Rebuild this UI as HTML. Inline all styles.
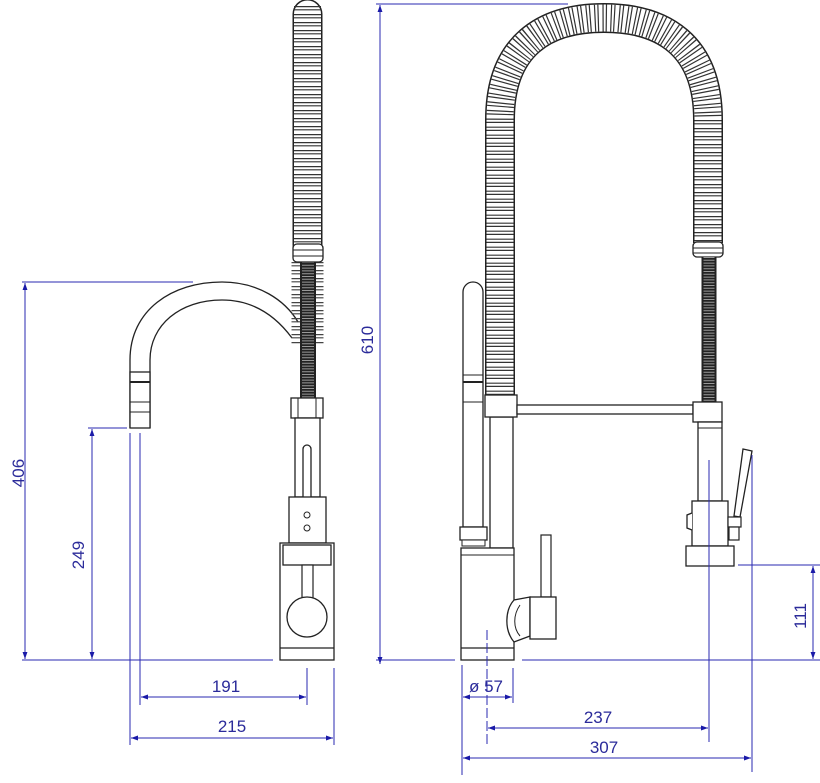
<!DOCTYPE html>
<html><head><meta charset="utf-8"><style>
html,body{margin:0;padding:0;background:#fff;}
svg{display:block}
text{font-family:"Liberation Sans",sans-serif;fill:#2b2b9a;font-size:17px}
</style></head><body>
<svg width="820" height="783" viewBox="0 0 820 783" xmlns="http://www.w3.org/2000/svg">
<defs>
<marker id="a" viewBox="0 0 10 10" refX="10" refY="5" markerWidth="9" markerHeight="7" orient="auto-start-reverse" markerUnits="userSpaceOnUse"><path d="M0,1.5 L10,5 L0,8.5 z" fill="#1a1aa8"/></marker>
</defs>
<g fill="none" stroke-linecap="butt">
<!-- ===== LEFT VIEW ===== -->
<path d="M130,428 L130,360 C130,310 172,282 222,282 C258,282 285,300 298,322" stroke="#222" stroke-width="1.3"/>
<path d="M150,428 L150,360 C150,325 180,300 222,300 C252,300 275,315 292,338" stroke="#222" stroke-width="1.3"/>
<rect x="130" y="372" width="20" height="56" fill="#fff" stroke="#222" stroke-width="1.3"/>
<line x1="130" y1="382" x2="150" y2="382" stroke="#222" stroke-width="2"/>
<line x1="130" y1="402" x2="150" y2="402" stroke="#222" stroke-width="1"/>
<line x1="130" y1="412" x2="150" y2="412" stroke="#222" stroke-width="1"/>
<!-- left spring -->
<path d="M307.5,14 L307.5,245" stroke="#222" stroke-width="30" stroke-linecap="round"/>
<path d="M307.5,14 L307.5,245" stroke="#fff" stroke-width="27" stroke-linecap="round"/>
<path d="M307.5,6 L307.5,245" stroke="#333" stroke-width="27" stroke-dasharray="1.2 2 1.2 3.6"/>
<path d="M307.5,262 L307.5,345" stroke="#444" stroke-width="32" stroke-dasharray="1.2 2 1.2 3.6"/>
<path d="M308,262 L308,398" stroke="#222" stroke-width="16"/>
<path d="M308,262 L308,398" stroke="#999" stroke-width="12" stroke-dasharray="1 1.8"/>
<rect x="293" y="244" width="30" height="18" rx="4" fill="#fff" stroke="#222" stroke-width="1.3"/>
<line x1="293" y1="250" x2="323" y2="250" stroke="#222"/><line x1="293" y1="256" x2="323" y2="256" stroke="#222"/>
<rect x="291" y="398" width="32" height="20" fill="#fff" stroke="#222" stroke-width="1.3"/>
<line x1="298" y1="398" x2="298" y2="418" stroke="#222"/><line x1="316" y1="398" x2="316" y2="418" stroke="#222"/>
<rect x="295" y="418" width="25" height="79" fill="#fff" stroke="#222" stroke-width="1.3"/>
<rect x="303" y="445" width="8" height="65" rx="4" fill="#fff" stroke="#222" stroke-width="1.3"/>
<rect x="289" y="497" width="37" height="46" fill="#fff" stroke="#222" stroke-width="1.3"/>
<circle cx="307" cy="515" r="3" stroke="#222"/><circle cx="307" cy="528" r="3" stroke="#222"/>
<rect x="280" y="543" width="54" height="117" fill="#fff" stroke="#222" stroke-width="1.3"/>
<rect x="283" y="545" width="48" height="20" fill="#fff" stroke="#222" stroke-width="1.3"/>
<rect x="302" y="565" width="11" height="35" fill="#fff" stroke="#222" stroke-width="1.2"/>
<circle cx="307" cy="617" r="20" fill="#fff" stroke="#222" stroke-width="1.3"/>
<line x1="280" y1="648" x2="334" y2="648" stroke="#222" stroke-width="1.3"/>

<!-- ===== RIGHT VIEW ===== -->
<path d="M500,395 L500,120 C500,45 545,18 604,18 C663,18 708,45 708,120 L708,243" stroke="#222" stroke-width="30"/>
<path d="M500,395 L500,120 C500,45 545,18 604,18 C663,18 708,45 708,120 L708,243" stroke="#fff" stroke-width="27"/>
<path d="M500,395 L500,120 C500,45 545,18 604,18 C663,18 708,45 708,120 L708,243" stroke="#333" stroke-width="27" stroke-dasharray="1.2 2 1.2 3.6"/>
<rect x="693" y="242" width="30" height="15" rx="4" fill="#fff" stroke="#222" stroke-width="1.3"/>
<line x1="693" y1="248" x2="723" y2="248" stroke="#222"/><line x1="693" y1="253" x2="723" y2="253" stroke="#222"/>
<path d="M709,257 L709,402" stroke="#222" stroke-width="15"/>
<path d="M709,257 L709,402" stroke="#999" stroke-width="11" stroke-dasharray="1 1.8"/>
<path d="M463,527 L463,292 A10,10 0 0 1 483,292 L483,527 Z" fill="#fff" stroke="#222" stroke-width="1.3"/>
<line x1="463" y1="375" x2="483" y2="375" stroke="#222"/>
<line x1="463" y1="382" x2="483" y2="382" stroke="#222" stroke-width="2"/>
<line x1="463" y1="402" x2="483" y2="402" stroke="#222"/>
<rect x="460" y="527" width="27" height="13" fill="#fff" stroke="#222" stroke-width="1.3"/>
<rect x="462" y="540" width="23" height="6" fill="#fff" stroke="#222" stroke-width="1"/>
<rect x="490" y="417" width="23" height="131" fill="#fff" stroke="#222" stroke-width="1.3"/>
<rect x="485" y="395" width="32" height="22" fill="#fff" stroke="#222" stroke-width="1.3"/>
<rect x="517" y="405" width="176" height="9" fill="#fff" stroke="#222" stroke-width="1.3"/>
<rect x="693" y="402" width="29" height="20" fill="#fff" stroke="#222" stroke-width="1.3"/>
<rect x="698" y="422" width="24" height="79" fill="#fff" stroke="#222" stroke-width="1.3"/>
<line x1="698" y1="428" x2="722" y2="428" stroke="#222"/>
<rect x="692" y="501" width="36" height="45" fill="#fff" stroke="#222" stroke-width="1.3"/>
<rect x="686" y="546" width="48" height="20" fill="#fff" stroke="#222" stroke-width="1.3"/>
<path d="M692,513 L687,515 L687,528 L692,530" fill="#fff" stroke="#222" stroke-width="1.3"/>
<path d="M743,449 L752,451 L740,517 L734,516 Z" fill="#fff" stroke="#222" stroke-width="1.3"/>
<rect x="728" y="517" width="13" height="10" fill="#fff" stroke="#222" stroke-width="1.2"/>
<rect x="729" y="527" width="10" height="13" fill="#fff" stroke="#222" stroke-width="1.2"/>
<rect x="461" y="548" width="53" height="112" fill="#fff" stroke="#222" stroke-width="1.3"/>
<line x1="461" y1="555" x2="514" y2="555" stroke="#222"/>
<line x1="461" y1="648" x2="514" y2="648" stroke="#222" stroke-width="1.3"/>
<path d="M514,600 C505,610 504,630 514,642 L530,636 L530,597 Z" fill="#fff" stroke="#222" stroke-width="1.3"/>
<path d="M520,605 C513,615 513,628 520,636" stroke="#222"/>
<rect x="541" y="535" width="10" height="62" fill="#fff" stroke="#222" stroke-width="1.2"/>
<rect x="530" y="597" width="26" height="42" fill="#fff" stroke="#222" stroke-width="1.3"/>
</g>

<g stroke="#2a2ab0" stroke-width="1" fill="none">
<line x1="22" y1="282" x2="193" y2="282"/>
<line x1="22" y1="660" x2="273" y2="660"/>
<line x1="25" y1="283" x2="25" y2="659" marker-start="url(#a)" marker-end="url(#a)"/>
<line x1="88" y1="428" x2="127" y2="428"/>
<line x1="92" y1="429" x2="92" y2="659" marker-start="url(#a)" marker-end="url(#a)"/>
<line x1="130" y1="433" x2="130" y2="745"/>
<line x1="140" y1="433" x2="140" y2="705"/>
<line x1="307" y1="668" x2="307" y2="705"/>
<line x1="334" y1="668" x2="334" y2="745"/>
<line x1="141" y1="697" x2="306" y2="697" marker-start="url(#a)" marker-end="url(#a)"/>
<line x1="131" y1="738" x2="333" y2="738" marker-start="url(#a)" marker-end="url(#a)"/>
<line x1="376" y1="4" x2="568" y2="4"/>
<line x1="380" y1="5" x2="380" y2="664" marker-start="url(#a)" marker-end="url(#a)"/>
<line x1="376" y1="660" x2="455" y2="660"/>
<line x1="522" y1="660" x2="820" y2="660"/>
<line x1="738" y1="565" x2="820" y2="565"/>
<line x1="813" y1="566" x2="813" y2="659" marker-start="url(#a)" marker-end="url(#a)"/>
<line x1="462" y1="665" x2="462" y2="775"/>
<line x1="513" y1="668" x2="513" y2="703"/>
<line x1="487" y1="630" x2="487" y2="745" stroke-dasharray="10 3"/>
<line x1="709" y1="460" x2="709" y2="742"/>
<line x1="752" y1="455" x2="752" y2="772"/>
<line x1="463" y1="697" x2="512" y2="697" marker-start="url(#a)" marker-end="url(#a)"/>
<line x1="488" y1="728" x2="708" y2="728" marker-start="url(#a)" marker-end="url(#a)"/>
<line x1="463" y1="758" x2="751" y2="758" marker-start="url(#a)" marker-end="url(#a)"/>
</g>
<text x="18" y="473" text-anchor="middle" transform="rotate(-90 18 473)" dy="6">406</text>
<text x="78" y="555" text-anchor="middle" transform="rotate(-90 78 555)" dy="6">249</text>
<text x="367" y="340" text-anchor="middle" transform="rotate(-90 367 340)" dy="6">610</text>
<text x="800" y="616" text-anchor="middle" transform="rotate(-90 800 616)" dy="6">111</text>
<text x="226" y="692" text-anchor="middle">191</text>
<text x="232" y="732" text-anchor="middle">215</text>
<text x="486" y="692" text-anchor="middle">ø 57</text>
<text x="598" y="723" text-anchor="middle">237</text>
<text x="604" y="753" text-anchor="middle">307</text>
</svg>
</body></html>
